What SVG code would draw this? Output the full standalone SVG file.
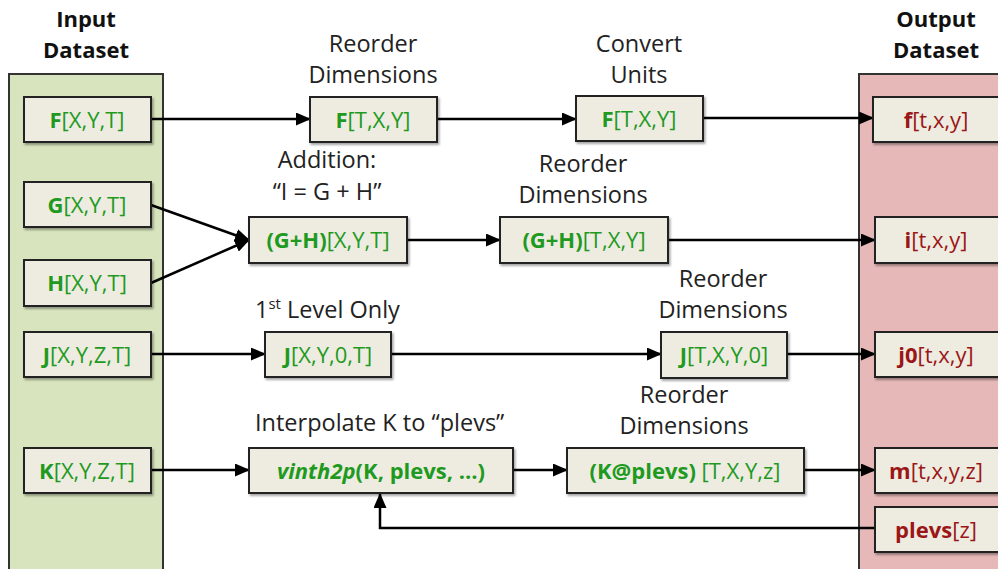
<svg xmlns="http://www.w3.org/2000/svg" width="998" height="569" viewBox="0 0 998 569">
<style>
.lbl{font-family:"Open Sans","Liberation Sans",sans-serif;font-size:23.5px;fill:#222;text-anchor:middle}
.ttl{font-family:"Open Sans","Liberation Sans",sans-serif;font-size:22px;font-weight:bold;fill:#111;text-anchor:middle}
.bx{fill:#eeece1;stroke:#222;stroke-width:2;filter:url(#sh)}
.g{font-family:"Open Sans","Liberation Sans",sans-serif;font-size:22px;fill:#1f9a1f;text-anchor:middle}
.r{font-family:"Open Sans","Liberation Sans",sans-serif;font-size:22px;fill:#9b1616;text-anchor:middle}
.b{font-weight:bold}
.c{fill:none;stroke:#000;stroke-width:2.5}
</style>
<defs>
<filter id="sh" x="-10%" y="-10%" width="130%" height="140%">
<feDropShadow dx="1.5" dy="2" stdDeviation="1.2" flood-color="#000" flood-opacity="0.35"/>
</filter>
<marker id="ah" markerWidth="15" markerHeight="13" refX="14" refY="6.5" orient="auto" markerUnits="userSpaceOnUse">
<path d="M0,0 L15,6.5 L0,13 Z" fill="#000"/>
</marker>
</defs>
<rect width="998" height="569" fill="#fff"/>

<g id="input-panel">
<rect x="9" y="74" width="154" height="510" fill="#d7e4bd" stroke="#333" stroke-width="2"/>
<text class="ttl" x="86" y="27">Input</text>
<text class="ttl" x="86" y="58">Dataset</text>
</g>
<g id="output-panel">
<rect x="859" y="74" width="160" height="510" fill="#e6b9b8" stroke="#333" stroke-width="2"/>
<text class="ttl" x="936" y="27">Output</text>
<text class="ttl" x="936" y="58">Dataset</text>
</g>

<g id="connectors">
<line class="c" x1="151" y1="119" x2="310" y2="119" marker-end="url(#ah)"/>
<line class="c" x1="437" y1="119" x2="576" y2="119" marker-end="url(#ah)"/>
<line class="c" x1="703" y1="118" x2="873" y2="118" marker-end="url(#ah)"/>
<line class="c" x1="151" y1="205" x2="249" y2="240" marker-end="url(#ah)"/>
<line class="c" x1="151" y1="283" x2="249" y2="240" marker-end="url(#ah)"/>
<line class="c" x1="407" y1="240" x2="500" y2="240" marker-end="url(#ah)"/>
<line class="c" x1="668" y1="240" x2="875" y2="240" marker-end="url(#ah)"/>
<line class="c" x1="151" y1="354" x2="265" y2="354" marker-end="url(#ah)"/>
<line class="c" x1="391" y1="354" x2="661" y2="354" marker-end="url(#ah)"/>
<line class="c" x1="787" y1="354" x2="875" y2="354" marker-end="url(#ah)"/>
<line class="c" x1="151" y1="470" x2="249" y2="470" marker-end="url(#ah)"/>
<line class="c" x1="513" y1="470" x2="567" y2="470" marker-end="url(#ah)"/>
<line class="c" x1="804" y1="470" x2="875" y2="470" marker-end="url(#ah)"/>
<polyline class="c" points="875,528 380,528 380,494" marker-end="url(#ah)"/>
</g>

<g id="F-in"><rect class="bx" x="24" y="97" width="127" height="45"/><text class="g" x="87" y="128"><tspan class="b">F</tspan>[X,Y,T]</text></g>
<g id="G-in"><rect class="bx" x="24" y="182" width="127" height="45"/><text class="g" x="87" y="213"><tspan class="b">G</tspan>[X,Y,T]</text></g>
<g id="H-in"><rect class="bx" x="24" y="260" width="127" height="46"/><text class="g" x="87" y="291"><tspan class="b">H</tspan>[X,Y,T]</text></g>
<g id="J-in"><rect class="bx" x="24" y="332" width="127" height="45"/><text class="g" x="87" y="363"><tspan class="b">J</tspan>[X,Y,Z,T]</text></g>
<g id="K-in"><rect class="bx" x="24" y="448" width="127" height="45"/><text class="g" x="87" y="479"><tspan class="b">K</tspan>[X,Y,Z,T]</text></g>

<g id="F-reorder">
<text class="lbl" x="373" y="52">Reorder</text><text class="lbl" x="373" y="83">Dimensions</text>
<rect class="bx" x="310" y="97" width="127" height="45"/><text class="g" x="373" y="128"><tspan class="b">F</tspan>[T,X,Y]</text></g>
<g id="F-convert">
<text class="lbl" x="639" y="52">Convert</text><text class="lbl" x="639" y="83">Units</text>
<rect class="bx" x="576" y="96" width="127" height="45"/><text class="g" x="639" y="127"><tspan class="b">F</tspan>[T,X,Y]</text></g>

<g id="GH-add">
<text class="lbl" x="327" y="168">Addition:</text><text class="lbl" x="327" y="200">“I = G + H”</text>
<rect class="bx" x="249" y="217" width="158" height="46"/><text class="g" x="328" y="248"><tspan class="b">(G+H)</tspan>[X,Y,T]</text></g>
<g id="GH-reorder">
<text class="lbl" x="583" y="172">Reorder</text><text class="lbl" x="583" y="203">Dimensions</text>
<rect class="bx" x="500" y="217" width="168" height="46"/><text class="g" x="584" y="248"><tspan class="b">(G+H)</tspan>[T,X,Y]</text></g>

<g id="J-level">
<text class="lbl" x="255" y="318" style="text-anchor:start">1<tspan font-size="15" dy="-9">st</tspan><tspan dy="9"> Level Only</tspan></text>
<rect class="bx" x="265" y="332" width="126" height="45"/><text class="g" x="328" y="363"><tspan class="b">J</tspan>[X,Y,0,T]</text></g>
<g id="J-reorder">
<text class="lbl" x="723" y="287">Reorder</text><text class="lbl" x="723" y="318">Dimensions</text>
<rect class="bx" x="661" y="332" width="126" height="46"/><text class="g" x="724" y="363"><tspan class="b">J</tspan>[T,X,Y,0]</text></g>

<g id="K-interp">
<text class="lbl" x="255" y="431" style="text-anchor:start">Interpolate K to “plevs”</text>
<rect class="bx" x="249" y="448" width="264" height="45"/><text class="g" x="381" y="479"><tspan class="b" font-style="italic">vinth2p</tspan><tspan class="b">(K, plevs, …)</tspan></text></g>
<g id="K-reorder">
<text class="lbl" x="684" y="403">Reorder</text><text class="lbl" x="684" y="434">Dimensions</text>
<rect class="bx" x="567" y="448" width="237" height="45"/><text class="g" x="685" y="479"><tspan class="b">(K@plevs)</tspan> [T,X,Y,z]</text></g>

<g id="f-out"><rect class="bx" x="873" y="97" width="140" height="45"/><text class="r" x="936" y="128"><tspan class="b">f</tspan>[t,x,y]</text></g>
<g id="i-out"><rect class="bx" x="875" y="217" width="140" height="46"/><text class="r" x="936" y="248"><tspan class="b">i</tspan>[t,x,y]</text></g>
<g id="j0-out"><rect class="bx" x="875" y="332" width="140" height="45"/><text class="r" x="936" y="363"><tspan class="b">j0</tspan>[t,x,y]</text></g>
<g id="m-out"><rect class="bx" x="875" y="448" width="140" height="45"/><text class="r" x="936" y="479"><tspan class="b">m</tspan>[t,x,y,z]</text></g>
<g id="plevs-out"><rect class="bx" x="875" y="507" width="140" height="45"/><text class="r" x="936" y="538"><tspan class="b">plevs</tspan>[z]</text></g>
</svg>
